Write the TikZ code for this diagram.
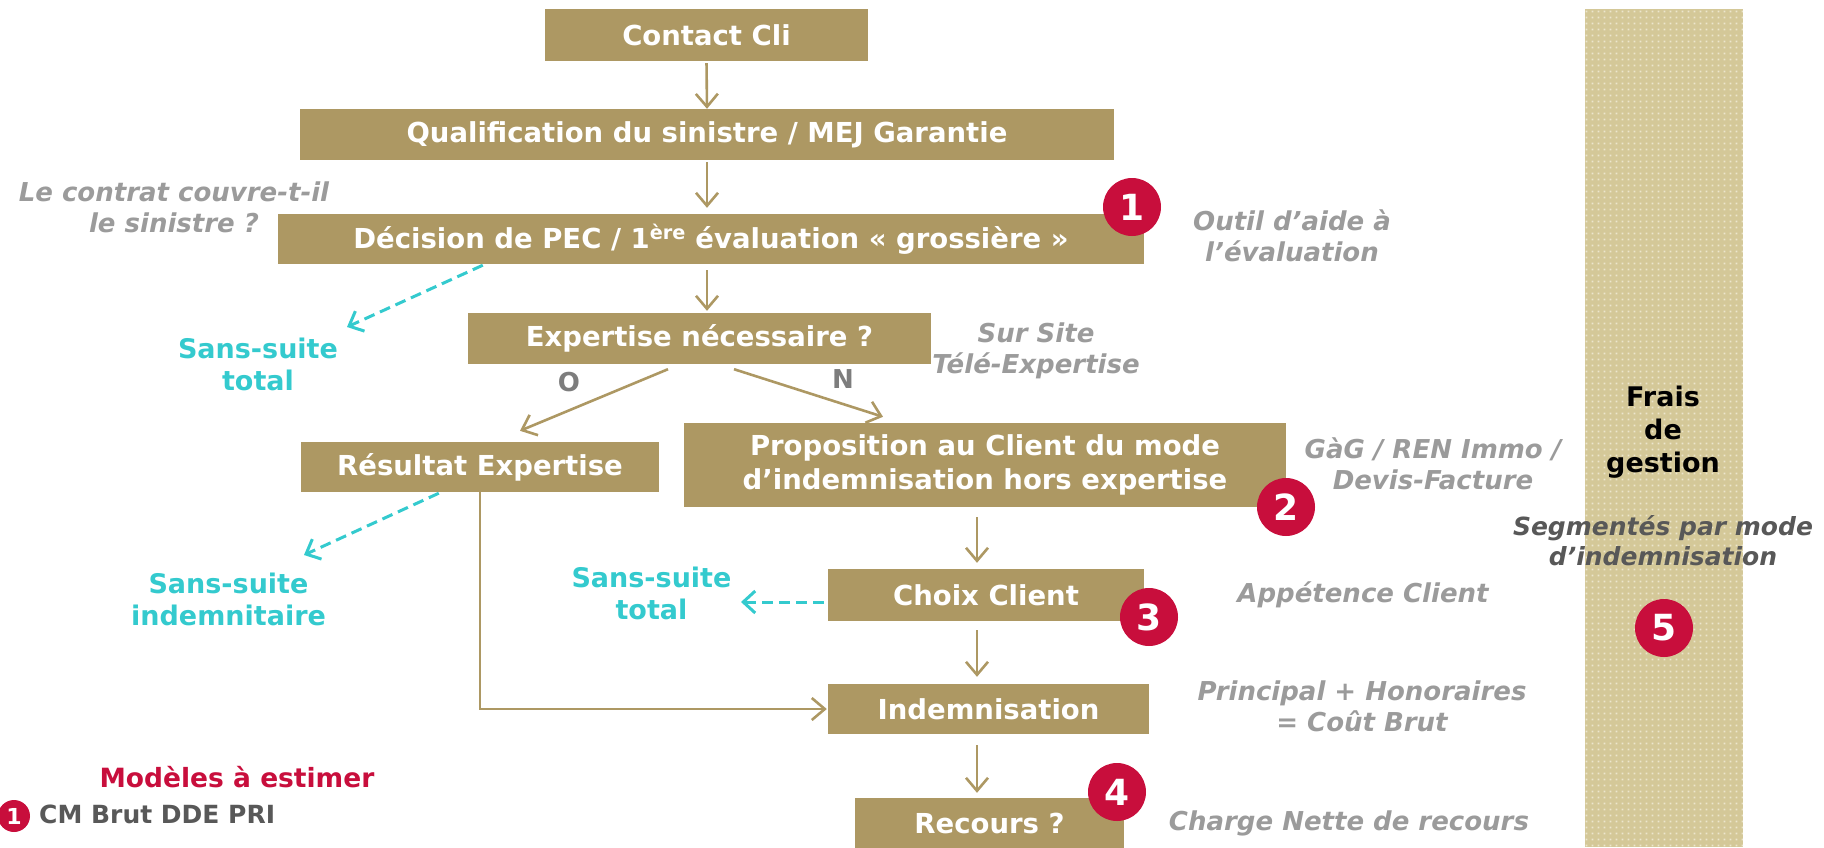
\documentclass[tikz,border=0pt]{standalone}
\usepackage{fontspec}
\setmainfont{DejaVu Sans}
\usetikzlibrary{arrows.meta,calc,patterns.meta}

\definecolor{gold}{RGB}{173,152,99}
\definecolor{crimson}{RGB}{200,14,60}
\definecolor{sscyan}{RGB}{52,202,206}
\definecolor{notegray}{RGB}{155,155,155}
\definecolor{darknote}{RGB}{88,88,88}
\definecolor{yngray}{RGB}{125,125,125}
\definecolor{bandbase}{RGB}{212,200,152}
\definecolor{banddot}{RGB}{236,230,205}

\newcommand\bxfont{\fontsize{27.5}{34}\selectfont\bfseries}
\newcommand\ntfont{\fontsize{26}{31}\selectfont\bfseries\itshape}
\newcommand\ssfont{\fontsize{27}{32}\selectfont\bfseries}

\tikzdeclarepattern{
  name=banddots,
  type=uncolored,
  bounding box={(0pt,0pt) and (6pt,6pt)},
  tile size={(6pt,6pt)},
  code={\fill (2pt,2pt) rectangle (4pt,4pt);}
}

\tikzset{
  gbox/.style={fill=gold, text=white, font=\bxfont, inner sep=0pt, align=center},
  badge/.style={circle, fill=crimson, text=white, minimum size=58pt, inner sep=0pt,
    font=\fontsize{36}{36}\selectfont\bfseries},
  note/.style={text=notegray, font=\ntfont, align=center, inner sep=0pt},
  sslabel/.style={text=sscyan, font=\ssfont, align=center, inner sep=0pt},
  yn/.style={text=yngray, font=\fontsize{26}{26}\selectfont\bfseries, inner sep=0pt},
  garrow/.style={draw=gold, line width=2.6pt,
    -{Straight Barb[length=13pt,width=22pt]}},
  carrow/.style={draw=sscyan, line width=3pt, dash pattern=on 11pt off 6pt,
    -{Straight Barb[length=12pt,width=22pt]}}
}

\begin{document}
\begin{tikzpicture}[x=1pt,y=-1pt]
\useasboundingbox (0,0) rectangle (1824,847);

% dotted column on the right
\fill[bandbase] (1585,9) rectangle (1743,847);
\fill[pattern=banddots, pattern color=banddot] (1585,9) rectangle (1743,847);

% process boxes
\node[gbox, minimum width=323pt, minimum height=52pt] (contact) at (706.5,35) {Contact Cli};
\node[gbox, minimum width=814pt, minimum height=51pt] (qualif) at (707,134.5) {Qualification du sinistre / MEJ Garantie};
\node[gbox, minimum width=866pt, minimum height=50pt] (decision) at (711,239) {Décision de PEC / 1\textsuperscript{ère} évaluation «~grossière~»};
\node[gbox, minimum width=463pt, minimum height=51pt] (expert) at (699.5,338.5) {Expertise nécessaire ?};
\node[gbox, minimum width=358pt, minimum height=50pt] (resultat) at (480,467) {Résultat Expertise};
\node[gbox, minimum width=602pt, minimum height=84pt] (prop) at (985,465) {Proposition au Client du mode\\d’indemnisation hors expertise};
\node[gbox, minimum width=316pt, minimum height=52pt] (choix) at (986,595) {Choix Client};
\node[gbox, minimum width=321pt, minimum height=50pt] (indem) at (988.5,709) {Indemnisation};
\node[gbox, minimum width=269pt, minimum height=51pt] (recours) at (989.5,823.5) {Recours ?};

% main flow
\coordinate (spine) at (977,0);
\draw[garrow, shorten <=2pt] (contact.south) -- (qualif.north);
\draw[garrow, shorten <=2pt, shorten >=6pt] (qualif.south) -- (decision.north -| qualif.south);
\draw[garrow, shorten <=6pt, shorten >=2pt] (decision.south -| qualif.south) -- (expert.north -| qualif.south);
\draw[garrow] ($(expert.south)+(-31.5,5)$) -- ($(resultat.north)+(40,-11)$);
\draw[garrow] ($(expert.south)+(34.5,5)$) -- ($(prop.north)+(-102,-6)$);
\draw[garrow, shorten <=10pt, shorten >=6pt] (prop.south -| spine) -- (choix.north -| spine);
\draw[garrow, shorten <=9pt, shorten >=7pt] (choix.south -| spine) -- (indem.north -| spine);
\draw[garrow, shorten <=11pt, shorten >=5pt] (indem.south -| spine) -- (recours.north -| spine);
\draw[garrow, shorten >=1pt] (resultat.south) |- (indem.west);

% branches without follow-up
\coordinate (ss1) at (347,327);
\coordinate (ss2) at (304,555);
\coordinate (ss3) at (741,602);
\draw[carrow] ($(decision.south west)+(205,1)$) -- (ss1);
\draw[carrow] ($(resultat.south west)+(138,1)$) -- (ss2);
\draw[carrow] ($(choix.west)+(-4,7)$) -- (ss3);

\node[sslabel] (sstotal1) at (258,364.5) {Sans-suite\\total};
\node[sslabel] (ssindem) at (228.5,599) {Sans-suite\\indemnitaire};
\node[sslabel] (sstotal2) at (651.5,593) {Sans-suite\\total};

% yes / no
\node[yn] (oui) at (569,382) {O};
\node[yn] (non) at (843,379) {N};

% side notes
\node[note] (ncontrat) at (174,207.5) {Le contrat couvre-t-il\\le sinistre ?};
\node[note] (noutil) at (1292,235.5) {Outil d’aide à\\l’évaluation};
\node[note] (nsite) at (1036,350.5) {Sur Site\\Télé-Expertise};
\node[note] (ngag) at (1433,463.5) {GàG / REN Immo /\\Devis-Facture};
\node[note] (nappet) at (1363,595) {Appétence Client};
\node[note] (nprinc) at (1362,706.5) {Principal + Honoraires\\= Coût Brut};
\node[note] (ncharge) at (1349,823) {Charge Nette de recours};

% management fees column
\node[text=black, font=\fontsize{27}{33}\selectfont\bfseries, align=center, inner sep=0pt] (frais) at (1663,432.5) {Frais\\de\\gestion};
\node[note, text=darknote, font=\fontsize{25}{30}\selectfont\bfseries\itshape] (nseg) at (1663,540.5) {Segmentés par mode\\d’indemnisation};

% model badges
\node[badge] (b1) at (1132,207) {1};
\node[badge] (b2) at (1286,507) {2};
\node[badge] (b3) at (1149,617) {3};
\node[badge] (b4) at (1117,792) {4};
\node[badge] (b5) at (1664,628) {5};

% legend
\node[text=crimson, font=\fontsize{26.5}{26.5}\selectfont\bfseries, inner sep=0pt] (legtitle) at (237,777) {Modèles à estimer};
\node[badge, minimum size=32pt, font=\fontsize{22}{22}\selectfont\bfseries] (legb1) at (14,816) {1};
\node[anchor=west, text=darknote, font=\fontsize{25}{25}\selectfont\bfseries, inner sep=0pt] (leg1) at (39,814) {CM Brut DDE PRI};
\end{tikzpicture}
\end{document}
